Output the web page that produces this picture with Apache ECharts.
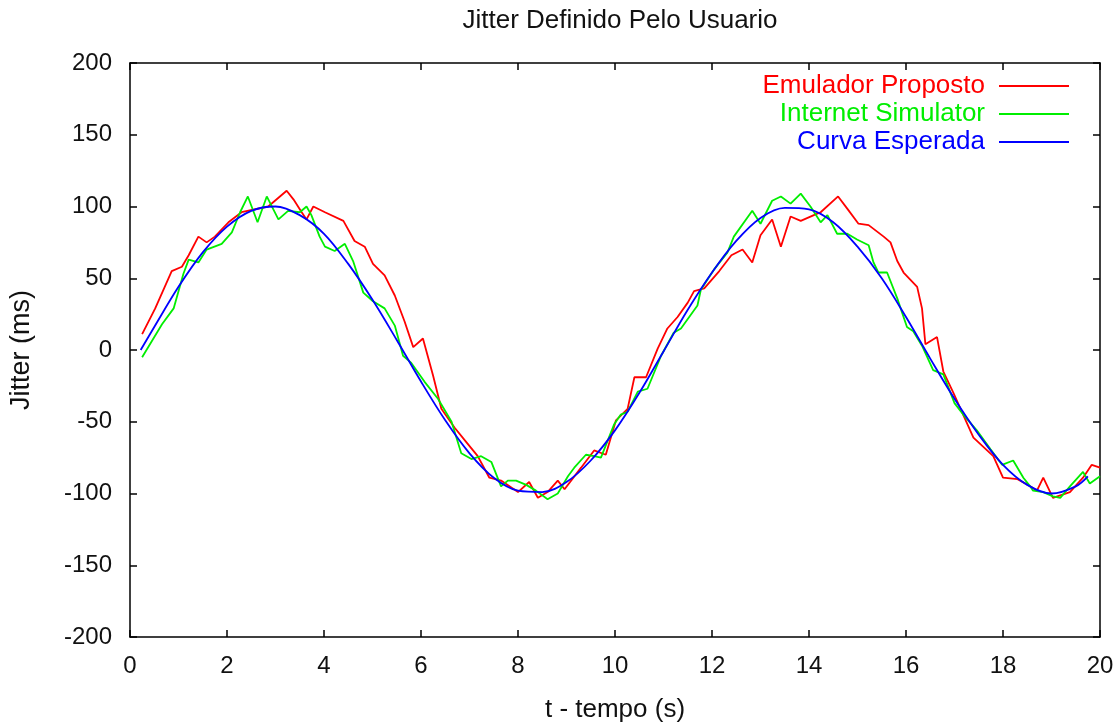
<!DOCTYPE html>
<html>
<head>
<meta charset="utf-8">
<title>Jitter Definido Pelo Usuario</title>
<script src="https://cdn.jsdelivr.net/npm/echarts@6/dist/echarts.min.js"></script>
<style>
  html, body { margin: 0; padding: 0; background: #ffffff; }
  #chart { width: 1117px; height: 728px; }
</style>
</head>
<body>
<div id="chart"></div>
<script>
// Axis ranges and tick steps
const xMin = 0, xMax = 20, xStep = 2;
const yMin = -200, yMax = 200, yStep = 50;

// Series names
const seriesNames = ['Emulador Proposto', 'Internet Simulator', 'Curva Esperada'];

// Emulador Proposto: [t (s), jitter (ms)]
const emulador = [
  [0.25, 11], [0.52, 29], [0.86, 55], [1.07, 58], [1.21, 66], [1.41, 79], [1.58, 75],
  [1.75, 79], [2.03, 89], [2.3, 96], [2.85, 100], [3.23, 111], [3.37, 105], [3.54, 96],
  [3.64, 91], [3.78, 100], [4.02, 96], [4.4, 90], [4.63, 76], [4.84, 72], [5.01, 60],
  [5.25, 52], [5.46, 38], [5.66, 20], [5.84, 2], [6.04, 8], [6.25, -18], [6.42, -41],
  [6.69, -54], [6.93, -64], [7.17, -74], [7.41, -89], [7.65, -91], [8.0, -99], [8.23, -92],
  [8.41, -103], [8.61, -99], [8.82, -91], [8.96, -97], [9.3, -82], [9.57, -70], [9.81, -73],
  [10.02, -49], [10.26, -41], [10.4, -19], [10.64, -19], [10.88, 1], [11.08, 15], [11.29, 23],
  [11.5, 33], [11.63, 41], [11.84, 43], [12.15, 55], [12.4, 66], [12.63, 70], [12.83, 61],
  [13.0, 80], [13.24, 91], [13.42, 72], [13.62, 93], [13.83, 90], [14.1, 94], [14.24, 96],
  [14.6, 107], [14.8, 98], [15.02, 88], [15.23, 87], [15.54, 79], [15.68, 75], [15.82, 62],
  [15.95, 54], [16.23, 44], [16.33, 29], [16.4, 4], [16.64, 9], [16.77, -15], [16.98, -30],
  [17.15, -43], [17.39, -61], [17.8, -74], [18.0, -89], [18.3, -90], [18.56, -95], [18.7, -98],
  [18.83, -89], [19.03, -103], [19.38, -99], [19.65, -89], [19.83, -80], [20.0, -82]
];

// Internet Simulator: [t (s), jitter (ms)]
const internetSim = [
  [0.25, -5], [0.66, 18], [0.9, 29], [1.1, 53], [1.21, 63], [1.41, 61], [1.58, 70],
  [1.89, 74], [2.1, 82], [2.27, 96], [2.43, 107], [2.63, 89], [2.82, 107], [3.06, 91],
  [3.26, 97], [3.5, 96], [3.64, 100], [3.74, 94], [3.91, 79], [4.02, 72], [4.22, 69],
  [4.43, 74], [4.6, 62], [4.81, 40], [5.01, 34], [5.25, 29], [5.46, 17], [5.63, -4],
  [5.8, -9], [6.07, -22], [6.35, -34], [6.63, -50], [6.83, -72], [7.04, -76], [7.24, -74],
  [7.45, -78], [7.65, -95], [7.79, -91], [7.96, -91], [8.17, -94], [8.37, -98], [8.61, -104],
  [8.82, -100], [9.03, -88], [9.16, -82], [9.4, -73], [9.57, -74], [9.71, -75], [9.98, -52],
  [10.12, -45], [10.26, -43], [10.47, -29], [10.67, -27], [10.95, -4], [11.21, 12], [11.36, 15],
  [11.7, 31], [11.77, 42], [12.04, 56], [12.32, 68], [12.45, 79], [12.83, 97], [13.0, 88],
  [13.24, 104], [13.42, 107], [13.62, 102], [13.83, 109], [14.03, 100], [14.24, 89], [14.38, 94],
  [14.58, 81], [14.79, 81], [14.99, 77], [15.23, 73], [15.33, 61], [15.43, 54], [15.61, 54],
  [15.82, 36], [16.02, 16], [16.15, 13], [16.33, 3], [16.56, -14], [16.77, -17], [17.0, -37],
  [17.18, -45], [17.46, -56], [17.74, -69], [17.98, -80], [18.21, -77], [18.42, -89], [18.56, -95],
  [18.62, -98], [18.83, -99], [19.03, -102], [19.18, -103], [19.38, -95], [19.65, -85], [19.79, -93],
  [20.0, -88]
];

// Curva Esperada: [t (s), jitter (ms)]
const curvaEsperada = [
  [0.22, 0], [0.5, 16], [1.0, 44], [1.5, 68], [2.0, 86], [2.5, 97], [3.0, 100], [3.5, 94],
  [4.0, 81], [4.5, 60], [5.0, 35], [5.5, 7], [6.0, -22], [6.5, -49], [7.0, -72], [7.5, -89],
  [8.0, -98], [8.5, -99], [9.0, -92], [9.5, -77], [10.0, -56], [10.5, -30], [11.0, -1],
  [11.5, 28], [12.0, 54], [12.5, 76], [13.0, 92], [13.5, 99], [14.0, 98], [14.5, 89],
  [15.0, 72], [15.5, 50], [16.0, 23], [16.5, -6], [17.0, -34], [17.5, -59], [18.0, -80],
  [18.5, -94], [19.0, -100], [19.5, -95], [19.75, -88]
];

const lineColors = ['#ff0000', '#00ee00', '#0000ff'];
const fontFamily = '"Liberation Sans", Arial, sans-serif';
const textColor = '#111111';

// Plot box in pixels
const gridLeft = 130, gridRight = 17, gridTop = 63, gridBottom = 90;
const plotCenterX = gridLeft + (1117 - gridLeft - gridRight) / 2;

const chart = echarts.init(document.getElementById('chart'), null, { renderer: 'canvas' });

const tickStyle = { show: true, inside: true, length: 7, lineStyle: { color: '#000', width: 1.5 } };
const borderLine = { show: true, onZero: false, lineStyle: { color: '#000', width: 1.5 } };

function lineSeries(name, data, color, smooth) {
  return {
    name: name,
    type: 'line',
    data: data,
    smooth: smooth,
    showSymbol: false,
    symbol: 'none',
    animation: false,
    lineStyle: { color: color, width: 1.8 },
    itemStyle: { color: color },
    xAxisIndex: 0,
    yAxisIndex: 0
  };
}

chart.setOption({
  backgroundColor: '#ffffff',
  animation: false,
  textStyle: { fontFamily: fontFamily },
  title: {
    text: 'Jitter Definido Pelo Usuario',
    left: plotCenterX,
    textAlign: 'center',
    top: 3,
    textStyle: { fontFamily: fontFamily, fontSize: 26, fontWeight: 'normal', color: textColor }
  },
  grid: { left: gridLeft, right: gridRight, top: gridTop, bottom: gridBottom, containLabel: false },
  legend: {
    orient: 'vertical',
    align: 'right',
    right: 43,
    top: 68,
    itemWidth: 70,
    itemHeight: 2,
    itemGap: 2,
    icon: 'rect',
    selectedMode: false,
    data: seriesNames.map((n, i) => ({
      name: n,
      textStyle: { color: lineColors[i] }
    })),
    textStyle: { fontFamily: fontFamily, fontSize: 26, lineHeight: 26, padding: [0, 9, 0, 0] }
  },
  xAxis: [
    {
      type: 'value',
      min: xMin, max: xMax, interval: xStep,
      position: 'bottom',
      name: 't - tempo (s)',
      nameLocation: 'middle',
      nameGap: 60,
      nameTextStyle: { fontFamily: fontFamily, fontSize: 26, color: textColor },
      axisLine: borderLine,
      axisTick: tickStyle,
      axisLabel: { margin: 17, fontFamily: fontFamily, fontSize: 24, color: textColor },
      splitLine: { show: false }
    },
    {
      type: 'value',
      min: xMin, max: xMax, interval: xStep,
      position: 'top',
      axisLine: borderLine,
      axisTick: tickStyle,
      axisLabel: { show: false },
      splitLine: { show: false }
    }
  ],
  yAxis: [
    {
      type: 'value',
      min: yMin, max: yMax, interval: yStep,
      position: 'left',
      name: 'Jitter (ms)',
      nameLocation: 'middle',
      nameGap: 95,
      nameTextStyle: { fontFamily: fontFamily, fontSize: 27, color: textColor },
      axisLine: borderLine,
      axisTick: tickStyle,
      axisLabel: { margin: 18, fontFamily: fontFamily, fontSize: 24, color: textColor },
      splitLine: { show: false }
    },
    {
      type: 'value',
      min: yMin, max: yMax, interval: yStep,
      position: 'right',
      axisLine: borderLine,
      axisTick: tickStyle,
      axisLabel: { show: false },
      splitLine: { show: false }
    }
  ],
  series: [
    lineSeries(seriesNames[0], emulador, lineColors[0], false),
    lineSeries(seriesNames[1], internetSim, lineColors[1], false),
    lineSeries(seriesNames[2], curvaEsperada, lineColors[2], 0.35)
  ]
});
</script>
</body>
</html>
